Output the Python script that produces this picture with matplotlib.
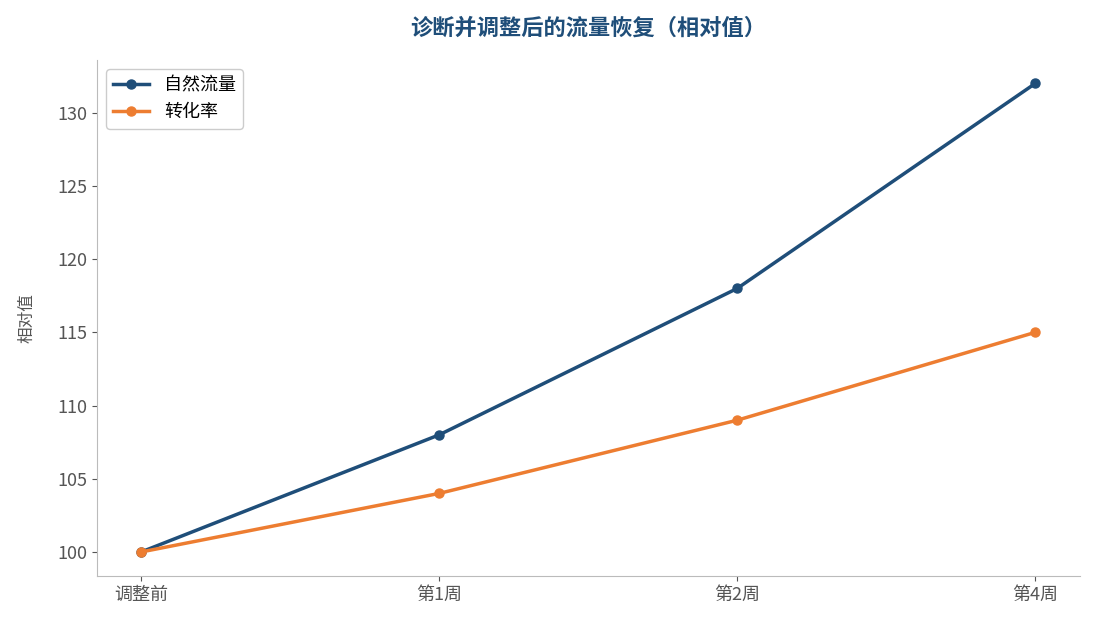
import matplotlib
matplotlib.use("Agg")
import matplotlib.pyplot as plt

plt.rcParams['font.family'] = ['Noto Sans CJK SC', 'DejaVu Sans']

categories = ["调整前", "第1周", "第2周", "第4周"]
organic = [100, 108, 118, 132]
conversion = [100, 104, 109, 115]

fig = plt.figure(figsize=(10.95, 6.29), dpi=100)
ax = fig.add_axes([97/1095, 1-576/629, (1080-97)/1095, (576-60)/629])
x = range(len(categories))
ax.plot(x, organic, color="#1f4e79", lw=2.5, marker="o", ms=6.5, label="自然流量")
ax.plot(x, conversion, color="#ed7d31", lw=2.5, marker="o", ms=6.5, label="转化率")
ax.set_xticks(list(x))
ax.set_xticklabels(categories)
ax.set_xlim(-0.148, 3.15)
ax.set_ylim(98.36, 133.6)
ax.set_yticks([100, 105, 110, 115, 120, 125, 130])
ax.set_ylabel("相对值", color="#555555", fontsize=12, labelpad=16)
ax.set_title("诊断并调整后的流量恢复（相对值）", color="#1f4e79", fontsize=16, fontweight="bold", pad=18)
for s in ["top", "right"]:
    ax.spines[s].set_visible(False)
for s in ["left", "bottom"]:
    ax.spines[s].set_color("#bbbbbb")
ax.tick_params(colors="#555555", labelsize=13)
ax.legend(loc="upper left", fontsize=13, framealpha=1, edgecolor="#cccccc")
fig.savefig("out.png", dpi=100)
